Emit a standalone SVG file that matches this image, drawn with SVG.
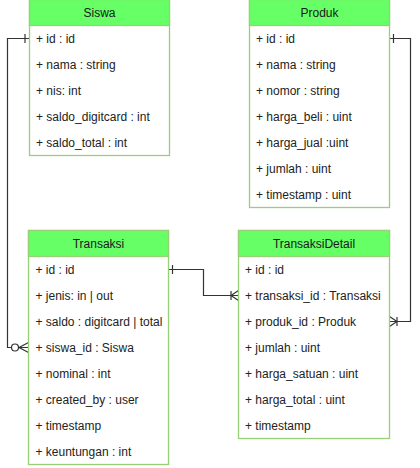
<svg xmlns="http://www.w3.org/2000/svg" width="420" height="468" viewBox="0 0 420 468">
<style>
.box{fill:#ffffff;stroke:#97D077;stroke-width:1.3}
.hdr{fill:#66FF66;stroke:#97D077;stroke-width:1.3}
.t{font-family:"Liberation Sans",Arial,sans-serif;font-size:12px;fill:#222222}
.h{font-family:"Liberation Sans",Arial,sans-serif;font-size:12px;fill:#1a1a1a;text-anchor:middle}
.ln{fill:none;stroke:#333333;stroke-width:1.2}
.mk{fill:none;stroke:#333333;stroke-width:1.2}
</style>
<rect width="420" height="468" fill="#ffffff"/>

<g id="conn">
  <!-- Siswa.id -> Transaksi.siswa_id -->
  <path class="ln" d="M29.5,38.5 H7.5 V347.5 H28.5"/>
  <path class="mk" d="M25,34 V43"/>
  <circle cx="15" cy="347.5" r="3.5" fill="#ffffff" stroke="#333333" stroke-width="1.2"/>
  <path class="mk" d="M28.5,342.5 L19,347.5 L28.5,352.5"/>
  <!-- Transaksi.id -> TransaksiDetail.transaksi_id -->
  <path class="ln" d="M168.5,269.5 H203.5 V295.5 H238.5"/>
  <path class="mk" d="M172.5,265 V274"/>
  <path class="mk" d="M231,291 V300"/>
  <path class="mk" d="M238.5,290.5 L231,295.5 L238.5,300.5"/>
  <!-- Produk.id -> TransaksiDetail.produk_id -->
  <path class="ln" d="M389.5,38.5 H410.5 V321.5 H389.5"/>
  <path class="mk" d="M393.5,34 V43"/>
  <path class="mk" d="M397,317 V326"/>
  <path class="mk" d="M389.5,316.5 L397,321.5 L389.5,326.5"/>
</g>

<g id="siswa">
  <rect class="box" x="29.5" y="-0.5" width="140" height="156"/>
  <rect class="hdr" x="29.5" y="-0.5" width="140" height="26"/>
  <text class="h" x="99.5" y="17">Siswa</text>
  <text class="t" x="36" y="42.5">+ id : id</text>
  <text class="t" x="36" y="68.5">+ nama : string</text>
  <text class="t" x="36" y="94.5">+ nis: int</text>
  <text class="t" x="36" y="120.5">+ saldo_digitcard : int</text>
  <text class="t" x="36" y="146.5">+ saldo_total : int</text>
</g>

<g id="produk">
  <rect class="box" x="249.5" y="-0.5" width="140" height="208"/>
  <rect class="hdr" x="249.5" y="-0.5" width="140" height="26"/>
  <text class="h" x="319.5" y="17">Produk</text>
  <text class="t" x="256" y="42.5">+ id : id</text>
  <text class="t" x="256" y="68.5">+ nama : string</text>
  <text class="t" x="256" y="94.5">+ nomor : string</text>
  <text class="t" x="256" y="120.5">+ harga_beli : uint</text>
  <text class="t" x="256" y="146.5">+ harga_jual :uint</text>
  <text class="t" x="256" y="172.5">+ jumlah : uint</text>
  <text class="t" x="256" y="198.5">+ timestamp : uint</text>
</g>

<g id="transaksi">
  <rect class="box" x="28.5" y="230.5" width="140" height="234"/>
  <rect class="hdr" x="28.5" y="230.5" width="140" height="26"/>
  <text class="h" x="98.5" y="248">Transaksi</text>
  <text class="t" x="35.5" y="273.5">+ id : id</text>
  <text class="t" x="35.5" y="299.5">+ jenis: in | out</text>
  <text class="t" x="35.5" y="325.5">+ saldo : digitcard | total</text>
  <text class="t" x="35.5" y="351.5">+ siswa_id : Siswa</text>
  <text class="t" x="35.5" y="377.5">+ nominal : int</text>
  <text class="t" x="35.5" y="403.5">+ created_by : user</text>
  <text class="t" x="35.5" y="429.5">+ timestamp</text>
  <text class="t" x="35.5" y="455.5">+ keuntungan : int</text>
</g>

<g id="transaksidetail">
  <rect class="box" x="238.5" y="230.5" width="151" height="208"/>
  <rect class="hdr" x="238.5" y="230.5" width="151" height="26"/>
  <text class="h" x="314" y="248">TransaksiDetail</text>
  <text class="t" x="245" y="273.5">+ id : id</text>
  <text class="t" x="245" y="299.5">+ transaksi_id : Transaksi</text>
  <text class="t" x="245" y="325.5">+ produk_id : Produk</text>
  <text class="t" x="245" y="351.5">+ jumlah : uint</text>
  <text class="t" x="245" y="377.5">+ harga_satuan : uint</text>
  <text class="t" x="245" y="403.5">+ harga_total : uint</text>
  <text class="t" x="245" y="429.5">+ timestamp</text>
</g>
</svg>
